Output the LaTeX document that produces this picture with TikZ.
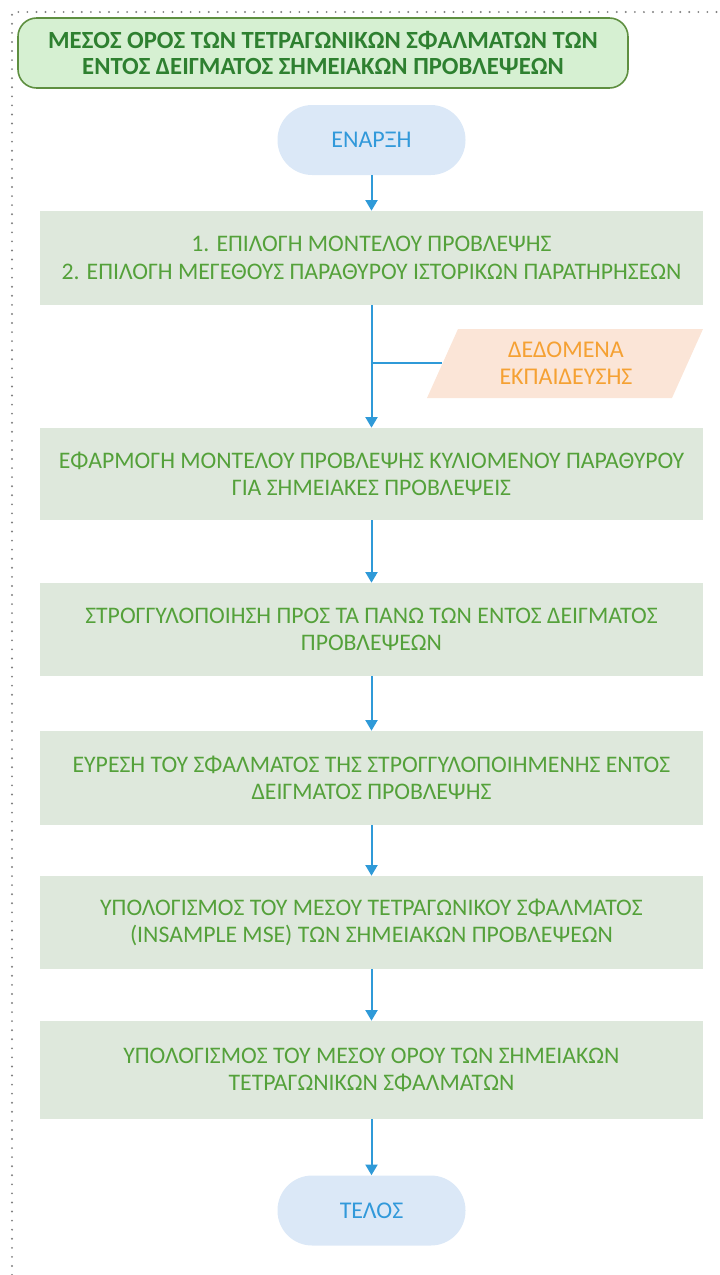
\documentclass[tikz,border=0pt]{standalone}
\usepackage{fontspec}
\setmainfont{Carlito}
\usetikzlibrary{arrows.meta}
\definecolor{boxfill}{HTML}{DEE8DC}
\definecolor{boxtext}{HTML}{54A13A}
\definecolor{titlefill}{HTML}{D6F0D2}
\definecolor{titledraw}{HTML}{5E8F40}
\definecolor{titletext}{HTML}{2E8030}
\definecolor{termfill}{HTML}{DBE8F7}
\definecolor{termtext}{HTML}{3199DA}
\definecolor{linecol}{HTML}{2F9AD8}
\definecolor{datafill}{HTML}{FBE5D7}
\definecolor{datatext}{HTML}{F5A133}
\definecolor{dotcol}{HTML}{808080}
\tikzset{
  procbox/.style={fill=boxfill, text=boxtext, minimum width=663*0.75pt, minimum height=#1*0.75pt, align=center, font=\fontsize{17.8}{20.5}\selectfont, inner sep=0pt},
  termbox/.style={fill=termfill, text=termtext, rounded corners=26pt, minimum width=188*0.75pt, minimum height=70*0.75pt, font=\fontsize{18}{20}\selectfont, inner sep=0pt},
  flow/.style={draw=linecol, line width=1.5pt, -{Triangle[width=9pt,length=8pt]}},
}
\begin{document}
\begin{tikzpicture}[x=0.75pt,y=-0.75pt]
\useasboundingbox (0,0) rectangle (719,1275);
% dotted frame
\draw[dotcol, line width=1.6pt, line cap=round, dash pattern=on 0pt off 6.8pt] (12,1275) -- (12,12) -- (719,12);
% title
\node[fill=titlefill, draw=titledraw, line width=1.2pt, rounded corners=14pt, minimum width=610*0.75pt, minimum height=70*0.75pt, text=titletext, align=center, font=\bfseries\fontsize{18.5}{19.5}\selectfont, inner sep=0pt] (title) at (323,53) {ΜΕΣΟΣ ΟΡΟΣ ΤΩΝ ΤΕΤΡΑΓΩΝΙΚΩΝ ΣΦΑΛΜΑΤΩΝ ΤΩΝ\\ΕΝΤΟΣ ΔΕΙΓΜΑΤΟΣ ΣΗΜΕΙΑΚΩΝ ΠΡΟΒΛΕΨΕΩΝ};
% start
\node[termbox] (start) at (371.5,140) {ΕΝΑΡΞΗ};
% boxes
\node[procbox=94] (b1) at (371.5,258) {1. ΕΠΙΛΟΓΗ ΜΟΝΤΕΛΟΥ ΠΡΟΒΛΕΨΗΣ\\2. ΕΠΙΛΟΓΗ ΜΕΓΕΘΟΥΣ ΠΑΡΑΘΥΡΟΥ ΙΣΤΟΡΙΚΩΝ ΠΑΡΑΤΗΡΗΣΕΩΝ};
\node[procbox=92] (b2) at (371.5,474) {ΕΦΑΡΜΟΓΗ ΜΟΝΤΕΛΟΥ ΠΡΟΒΛΕΨΗΣ ΚΥΛΙΟΜΕΝΟΥ ΠΑΡΑΘΥΡΟΥ\\ΓΙΑ ΣΗΜΕΙΑΚΕΣ ΠΡΟΒΛΕΨΕΙΣ};
\node[procbox=93] (b3) at (371.5,629.5) {ΣΤΡΟΓΓΥΛΟΠΟΙΗΣΗ ΠΡΟΣ ΤΑ ΠΑΝΩ ΤΩΝ ΕΝΤΟΣ ΔΕΙΓΜΑΤΟΣ\\ΠΡΟΒΛΕΨΕΩΝ};
\node[procbox=94] (b4) at (371.5,778) {ΕΥΡΕΣΗ ΤΟΥ ΣΦΑΛΜΑΤΟΣ ΤΗΣ ΣΤΡΟΓΓΥΛΟΠΟΙΗΜΕΝΗΣ ΕΝΤΟΣ\\ΔΕΙΓΜΑΤΟΣ ΠΡΟΒΛΕΨΗΣ};
\node[procbox=93] (b5) at (371.5,922.5) {ΥΠΟΛΟΓΙΣΜΟΣ ΤΟΥ ΜΕΣΟΥ ΤΕΤΡΑΓΩΝΙΚΟΥ ΣΦΑΛΜΑΤΟΣ\\(INSAMPLE MSE) ΤΩΝ ΣΗΜΕΙΑΚΩΝ ΠΡΟΒΛΕΨΕΩΝ};
\node[procbox=98] (b6) at (371.5,1070) {ΥΠΟΛΟΓΙΣΜΟΣ ΤΟΥ ΜΕΣΟΥ ΟΡΟΥ ΤΩΝ ΣΗΜΕΙΑΚΩΝ\\ΤΕΤΡΑΓΩΝΙΚΩΝ ΣΦΑΛΜΑΤΩΝ};
% end
\node[termbox] (end) at (371.5,1210.5) {ΤΕΛΟΣ};
% data parallelogram
\fill[datafill] (427,398) -- (458,329) -- (703,329) -- (672,398) -- cycle;
\node[text=datatext, align=center, font=\fontsize{18}{20.5}\selectfont, inner sep=0pt] (data) at (566,363) {ΔΕΔΟΜΕΝΑ\\ΕΚΠΑΙΔΕΥΣΗΣ};
\coordinate (dataw) at (442,363);
\coordinate (join) at (371.5,363);
% connectors
\draw[flow] (start) -- (b1);
\draw[flow] (b1) -- (b2);
\draw[draw=linecol, line width=1.5pt] (dataw) -- (join);
\draw[flow] (b2) -- (b3);
\draw[flow] (b3) -- (b4);
\draw[flow] (b4) -- (b5);
\draw[flow] (b5) -- (b6);
\draw[flow] (b6) -- (end);
\end{tikzpicture}
\end{document}
